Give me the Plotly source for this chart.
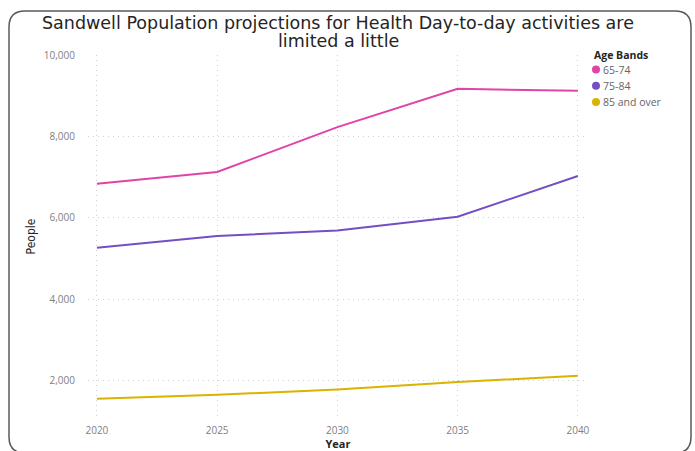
import plotly.graph_objects as go

# Projection data
years = [2020, 2025, 2030, 2035, 2040]
band_names = ["65-74", "75-84", "85 and over"]
people_65_74 = [6840, 7130, 8230, 9170, 9120]
people_75_84 = [5270, 5560, 5690, 6030, 7030]
people_85_over = [1560, 1660, 1790, 1975, 2125]
band_colors = ["#E044A7", "#744EC2", "#D9B300"]
title_lines = ["Sandwell Population projections for Health Day-to-day activities are",
               "limited a little"]

series = [people_65_74, people_75_84, people_85_over]

fig = go.Figure()
for name, vals, col in zip(band_names, series, band_colors):
    fig.add_trace(go.Scatter(
        x=years, y=vals, mode="lines", name=name,
        line=dict(color=col, width=2), showlegend=False,
        hovertemplate="%{x}: %{y:,}<extra>" + name + "</extra>",
    ))

# plot area in pixels
L, R, T, B = 88, 588, 55, 418
W, H = 695, 451
def px(xp):
    return (xp - L) / (R - L)
def py(yp):
    return (B - yp) / (B - T)

# rounded card border
x0, x1, y0, y1, r = 9, 691, 11, 453, 16
path = (
    f"M {px(x0 + r)},{py(y0)} L {px(x1 - r)},{py(y0)} "
    f"Q {px(x1)},{py(y0)} {px(x1)},{py(y0 + r)} "
    f"L {px(x1)},{py(y1 - r)} Q {px(x1)},{py(y1)} {px(x1 - r)},{py(y1)} "
    f"L {px(x0 + r)},{py(y1)} Q {px(x0)},{py(y1)} {px(x0)},{py(y1 - r)} "
    f"L {px(x0)},{py(y0 + r)} Q {px(x0)},{py(y0)} {px(x0 + r)},{py(y0)} Z"
)
fig.add_shape(type="path", path=path, xref="paper", yref="paper",
              line=dict(color="#5A5A5A", width=1.5), layer="above")

font_family = "Open Sans, DejaVu Sans, sans-serif"
title_font = "DejaVu Sans, sans-serif"

# two-line title with tight line spacing
for i, line in enumerate(title_lines):
    fig.add_annotation(
        text=line, x=0.5, xref="paper", xanchor="center",
        y=py(23.5 + 17 * i), yref="paper", yanchor="middle",
        showarrow=False, font=dict(size=17.5, color="#252423", family=title_font),
    )

# legend: title, circle swatches and labels
fig.add_annotation(
    text="<b>Age Bands</b>", x=px(592), xref="paper", xanchor="left",
    y=py(55), yref="paper", yanchor="middle", showarrow=False,
    font=dict(size=10.5, color="#252423", family=font_family),
)
for i, (name, col) in enumerate(zip(band_names, band_colors)):
    cy = 69.5 + 16.2 * i
    fig.add_shape(type="circle", xref="paper", yref="paper",
                  x0=px(592), x1=px(600), y0=py(cy + 4), y1=py(cy - 4),
                  fillcolor=col, line=dict(width=0))
    fig.add_annotation(
        text=name, x=px(601), xref="paper", xanchor="left",
        y=py(cy), yref="paper", yanchor="middle", showarrow=False,
        font=dict(size=10.5, color="#666666", family=font_family),
    )

fig.update_layout(
    width=W, height=H,
    margin=dict(l=L, r=W - R, t=T, b=H - B, pad=0),
    paper_bgcolor="white", plot_bgcolor="white",
    font=dict(family=font_family, color="#605E5C", size=10),
    showlegend=False,
)

grid_style = dict(showgrid=True, gridcolor="#D0D0D0", griddash="1px,4px", gridwidth=1)

fig.update_xaxes(
    range=[2019.63, 2040.42],
    tickvals=years, ticktext=[str(y) for y in years],
    zeroline=False, showline=False, automargin=False,
    ticks="outside", ticklen=3, tickcolor="rgba(0,0,0,0)",
    tickfont=dict(size=10, color="#808080"),
    title=dict(text="<b>Year</b>", font=dict(size=11, color="#252423"), standoff=0),
    **grid_style,
)
fig.update_yaxes(
    range=[1090, 10000],
    tickvals=[2000, 4000, 6000, 8000, 10000],
    tickformat=",d",
    zeroline=False, showline=False, automargin=False,
    ticks="outside", ticklen=10, tickcolor="rgba(0,0,0,0)",
    tickfont=dict(size=10, color="#808080"),
    title=dict(text="People", font=dict(size=12, color="#252423",
                                        family="Liberation Sans Narrow, DejaVu Sans Condensed, sans-serif"),
               standoff=5),
    **grid_style,
)

fig.write_html("out.html")
